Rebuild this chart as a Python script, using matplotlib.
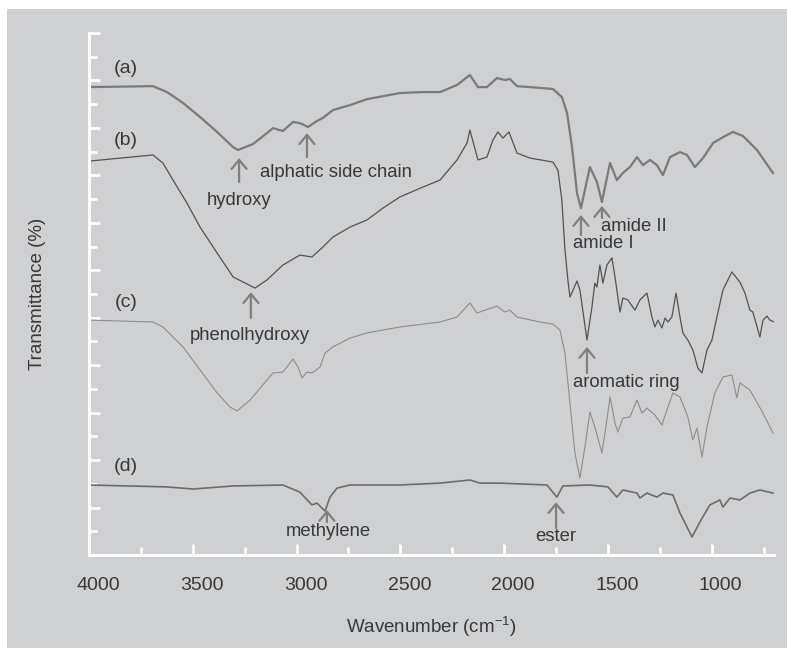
"""
FTIR spectra (a)-(d) with band assignments
"""

import matplotlib
matplotlib.use('Agg')
import matplotlib.pyplot as plt
import matplotlib.transforms as mtransforms
from matplotlib.patches import Rectangle

# wavenumber (cm-1) / transmittance (offset, arbitrary units)
wn_a = [4000, 3692, 3624, 3547, 3465, 3383, 3306, 3282, 3210, 3143, 3114, 3066, 3017,
        2984, 2945, 2902, 2873, 2825, 2743, 2661, 2502, 2391, 2309, 2227, 2165, 2126,
        2083, 2035, 1996, 1972, 1938, 1876, 1765, 1722, 1697, 1673, 1649, 1630, 1587,
        1553, 1529, 1490, 1457, 1428, 1394, 1360, 1331, 1298, 1264, 1235, 1201, 1153,
        1119, 1081, 1042, 994, 946, 898, 850, 782, 705]
tr_a = [19.72, 19.76, 19.51, 19.05, 18.46, 17.83, 17.19, 17.07, 17.32, 17.78, 17.99, 17.87,
        18.25, 18.20, 18.04, 18.29, 18.42, 18.75, 18.96, 19.21, 19.47, 19.51, 19.51, 19.81,
        20.23, 19.72, 19.72, 20.10, 20.02, 20.06, 19.76, 19.72, 19.64, 19.30, 18.63, 17.19,
        15.25, 14.62, 16.35, 15.72, 14.88, 16.52, 15.80, 16.10, 16.35, 16.77, 16.43, 16.65,
        16.43, 16.01, 16.77, 16.98, 16.86, 16.35, 16.73, 17.36, 17.61, 17.83, 17.66, 17.07,
        16.10]

wn_b = [4000, 3692, 3644, 3595, 3528, 3465, 3383, 3306, 3200, 3143, 3066, 2984, 2926,
        2873, 2825, 2743, 2661, 2584, 2502, 2391, 2309, 2227, 2179, 2165, 2126, 2083,
        2054, 2030, 2006, 1977, 1938, 1876, 1765, 1741, 1722, 1707, 1693, 1683, 1649,
        1635, 1601, 1577, 1563, 1553, 1539, 1524, 1505, 1481, 1466, 1442, 1428, 1404,
        1370, 1346, 1312, 1288, 1274, 1259, 1240, 1225, 1211, 1192, 1172, 1153, 1139,
        1115, 1091, 1081, 1067, 1047, 1023, 999, 975, 946, 903, 864, 840, 816, 802,
        787, 768, 753, 734, 720, 700]
tr_b = [16.60, 16.86, 16.52, 15.80, 14.83, 13.82, 12.73, 11.72, 11.25, 11.59, 12.22, 12.64,
        12.56, 12.98, 13.40, 13.82, 14.12, 14.62, 15.09, 15.51, 15.80, 16.65, 17.36, 17.91,
        16.65, 16.77, 17.49, 17.83, 17.57, 17.83, 16.94, 16.73, 16.56, 16.22, 14.96, 12.85,
        11.59, 10.87, 11.55, 11.17, 9.06, 10.45, 11.46, 11.29, 12.22, 11.46, 12.22, 12.52,
        11.72, 10.24, 10.83, 10.75, 10.32, 10.75, 11.04, 10.03, 9.61, 9.90, 9.57, 9.99,
        9.82, 10.03, 11.04, 10.03, 9.36, 9.06, 8.64, 8.34, 7.88, 7.67, 8.64, 9.06, 10.03,
        11.17, 11.93, 11.50, 11.04, 10.32, 10.24, 9.78, 9.19, 9.90, 10.07, 9.90, 9.82]

wn_c = [4000, 3692, 3644, 3547, 3465, 3383, 3321, 3287, 3224, 3143, 3114, 3066, 3017,
        2993, 2974, 2950, 2926, 2887, 2863, 2825, 2743, 2661, 2502, 2309, 2227, 2165,
        2131, 2035, 1996, 1972, 1938, 1828, 1765, 1731, 1707, 1683, 1659, 1635, 1611,
        1587, 1563, 1529, 1505, 1490, 1466, 1452, 1428, 1394, 1360, 1336, 1312, 1274,
        1240, 1216, 1187, 1153, 1115, 1091, 1071, 1047, 1023, 985, 946, 903, 879, 864,
        816, 753, 705]
tr_c = [9.90, 9.82, 9.61, 8.77, 7.80, 6.83, 6.24, 6.07, 6.53, 7.37, 7.67, 7.71, 8.26,
        7.92, 7.46, 7.71, 7.67, 7.92, 8.51, 8.77, 9.14, 9.36, 9.61, 9.82, 10.03, 10.62,
        10.20, 10.49, 10.24, 10.32, 10.03, 9.82, 9.73, 9.48, 8.51, 6.41, 4.30, 3.24, 4.55,
        6.03, 5.39, 4.30, 5.69, 6.66, 5.56, 5.18, 5.77, 5.82, 6.53, 5.98, 6.19, 5.90,
        5.48, 6.11, 6.83, 6.66, 5.82, 4.85, 5.35, 4.13, 5.39, 6.83, 7.50, 7.59, 6.62,
        7.25, 6.95, 5.98, 5.14]

wn_d = [4000, 3624, 3499, 3306, 3066, 2984, 2926, 2902, 2863, 2839, 2805, 2743, 2502,
        2309, 2165, 2117, 2020, 1794, 1746, 1717, 1587, 1500, 1457, 1428, 1360, 1346,
        1312, 1264, 1235, 1187, 1153, 1119, 1095, 1057, 1009, 961, 946, 912, 864, 816,
        768, 705]
tr_d = [2.95, 2.87, 2.78, 2.91, 2.95, 2.65, 2.11, 2.19, 1.85, 2.44, 2.82, 2.95, 2.95,
        3.03, 3.16, 3.03, 3.03, 2.95, 2.44, 2.91, 2.95, 2.87, 2.44, 2.74, 2.61, 2.40,
        2.61, 2.44, 2.61, 2.53, 1.77, 1.18, 0.76, 1.39, 2.11, 2.32, 2.02, 2.40, 2.32,
        2.61, 2.74, 2.61]

# curve labels
curve_labels = ['(a)', '(b)', '(c)', '(d)']
curve_label_y = [20.52, 17.49, 10.66, 3.71]

# band assignments: text, wavenumber, arrow tip, arrow tail, text x, text y, alignment
bands = [
    ('hydroxy', 3277, 16.73, 15.72, 3277, 14.96, 'center'),
    ('alphatic side chain', 2950, 17.78, 16.77, 3176, 16.10, 'left'),
    ('phenolhydroxy', 3220, 11.08, 9.99, 3224, 9.23, 'center'),
    ('amide I', 1630, 14.33, 13.49, 1669, 13.11, 'left'),
    ('amide II', 1529, 14.71, 14.20, 1534, 13.86, 'left'),
    ('aromatic ring', 1601, 8.77, 7.67, 1669, 7.25, 'left'),
    ('methylene', 2854, 1.90, 1.39, 2849, 1.01, 'center'),
    ('ester', 1750, 2.23, 1.14, 1750, 0.80, 'center'),
]

BG = '#cfd0d2'
TXT = '#383838'
ARROW = '#7f7f7f'

plt.rcParams['font.family'] = ['Liberation Sans', 'DejaVu Sans']
plt.rcParams['mathtext.fontset'] = 'custom'
plt.rcParams['mathtext.rm'] = 'Liberation Sans'

fig = plt.figure(figsize=(7.87, 6.48), dpi=100, facecolor='white')
fig.patches.append(Rectangle((7 / 787, 0), 1, 1 - 9 / 648, transform=fig.transFigure,
                             facecolor=BG, edgecolor='none', zorder=-10))

ax = fig.add_axes([89 / 787, 93 / 648, 685 / 787, 522 / 648])
ax.set_facecolor('none')

ax.plot(wn_a, tr_a, color='#7a7a7a', lw=1.6)
ax.plot(wn_b, tr_b, color='#525252', lw=0.9)
ax.plot(wn_c, tr_c, color='#8c8c8c', lw=0.8)
ax.plot(wn_d, tr_d, color='#6c6c6c', lw=1.2)

for lab, yv in zip(curve_labels, curve_label_y):
    ax.text(3822, yv, lab, fontsize=14, color=TXT, ha='center', va='center')

for txt, wn, tip, tail, tx, ty, ha in bands:
    ax.annotate('', xy=(wn, tip), xytext=(wn, tail),
                arrowprops=dict(arrowstyle='->,head_length=0.55,head_width=0.45',
                                color=ARROW, lw=1.6, shrinkA=0, shrinkB=0,
                                mutation_scale=12))
    ax.text(tx, ty, txt, fontsize=13.3, color=TXT, ha=ha, va='center')

ax.set_xlim(4000, 700)
ax.set_ylim(0, 22)

for side in ['top', 'right']:
    ax.spines[side].set_visible(False)
for side in ['left', 'bottom']:
    ax.spines[side].set_color('white')
    ax.spines[side].set_linewidth(2.2)

ax.set_xticks([4000, 3500, 3000, 2500, 2000, 1500, 1000])
ax.set_xticks([3750, 3250, 2750, 2250, 1750, 1250, 750], minor=True)
ax.set_yticks(range(0, 23, 2))
ax.set_yticks(range(1, 23, 2), minor=True)
ax.set_yticklabels([])
ax.tick_params(axis='both', which='major', direction='in', color='white',
               width=2.0, length=8, labelcolor=TXT, labelsize=14)
ax.tick_params(axis='both', which='minor', direction='in', color='white',
               width=2.0, length=5.5)
ax.tick_params(axis='x', which='major', pad=16)

# tick labels sit a little to the right of their ticks
shift = mtransforms.ScaledTranslation(0.09, 0, fig.dpi_scale_trans)
for lbl in ax.get_xticklabels():
    lbl.set_transform(lbl.get_transform() + shift)

fig.text(431 / 787, 1 - 627 / 648, 'Wavenumber (cm$^{-1}$)', fontsize=13.5,
         color=TXT, ha='center', va='center')
fig.text(38 / 787, 1 - 294 / 648, 'Transmittance (%)', fontsize=13.5,
         color=TXT, ha='center', va='center', rotation=90)

fig.savefig('out.png', dpi=100, facecolor=fig.get_facecolor())
